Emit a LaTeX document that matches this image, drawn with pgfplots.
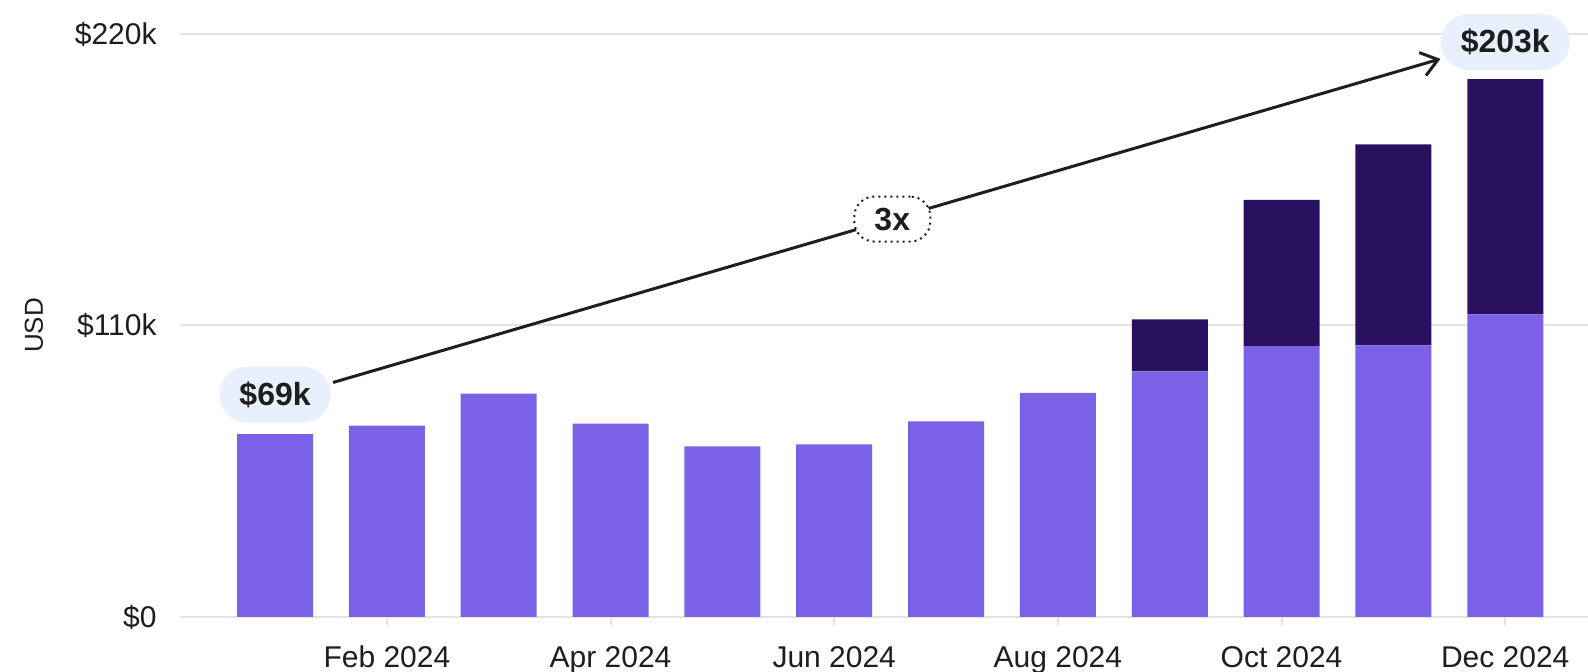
\documentclass[border=0pt]{standalone}
\usepackage{pgfplots}
\pgfplotsset{compat=1.18}
\usepackage{fontspec}
\setmainfont{Liberation Sans}
\usetikzlibrary{arrows.meta}
\definecolor{lightbar}{HTML}{7B61E6}
\definecolor{darkbar}{HTML}{29115F}
\definecolor{pill}{HTML}{E7F0FC}
\definecolor{gridc}{HTML}{E3E3E3}
\definecolor{txt}{HTML}{1E1E1E}
\begin{document}
\begin{tikzpicture}
\begin{axis}[
  at={(0,0)}, anchor=south west, scale only axis,
  width=704pt, height=291.5pt,
  xmin=-0.85, xmax=11.74, ymin=0, ymax=220,
  clip=false,
  ybar stacked, bar width=38pt,
  axis line style={draw=none},
  ytick={0,110,220},
  yticklabels={\$0,\$110k,\$220k},
  ymajorgrids, grid style={gridc, line width=1pt},
  ytick style={draw=none},
  xtick={1,3,5,7,9,11},
  xticklabels={Feb 2024,Apr 2024,Jun 2024,Aug 2024,Oct 2024,Dec 2024},
  xtick pos=left, tick align=outside, major tick length=4pt,
  xtick style={gridc, line width=1pt},
  /pgf/number format/assume math mode=true,
  tick label style={font=\fontsize{15}{18}\selectfont, text=txt},
  yticklabel style={anchor=east, inner sep=0pt, xshift=-7.5pt},
  xticklabel style={anchor=base, inner sep=0pt, yshift=-21.5pt},
  ylabel={USD},
  ylabel style={font=\fontsize{13}{16}\selectfont, text=txt, at={([xshift=-73pt]axis description cs:0,0.5)}, anchor=center},
]
\addplot[fill=lightbar, draw=none] coordinates {
  (0,69) (1,72.2) (2,84.3) (3,73) (4,64.4) (5,65.1) (6,73.8) (7,84.6) (8,92.7) (9,102.2) (10,102.5) (11,114.2)};
\addplot[fill=darkbar, draw=none] coordinates {
  (0,0) (1,0) (2,0) (3,0) (4,0) (5,0) (6,0) (7,0) (8,19.6) (9,55.2) (10,75.8) (11,88.8)};
\draw[line width=1.5pt, txt, -{Straight Barb[length=8pt,width=12pt,line width=1.5pt]}]
  (axis cs:0.519,88.5) -- node[pos=0.505, fill=white, draw=txt, dotted, line width=1pt, rounded corners=10pt, minimum width=38pt, minimum height=22.5pt, inner sep=0pt, font=\bfseries\fontsize{16}{19}\selectfont, text=txt] {3x} (axis cs:10.42,210.6);
\node[fill=pill, rounded corners=14pt, minimum height=28pt, inner xsep=10pt, font=\bfseries\fontsize{16}{19}\selectfont, text=txt] at (axis cs:0,83.9) {\$69k};
\node[fill=pill, rounded corners=14pt, minimum height=28pt, inner xsep=10pt, font=\bfseries\fontsize{16}{19}\selectfont, text=txt] at (axis cs:11,217) {\$203k};
\end{axis}
\pgfresetboundingbox
\path[use as bounding box] (-90pt,-27.5pt) rectangle (704pt,308.5pt);
\end{tikzpicture}
\end{document}
